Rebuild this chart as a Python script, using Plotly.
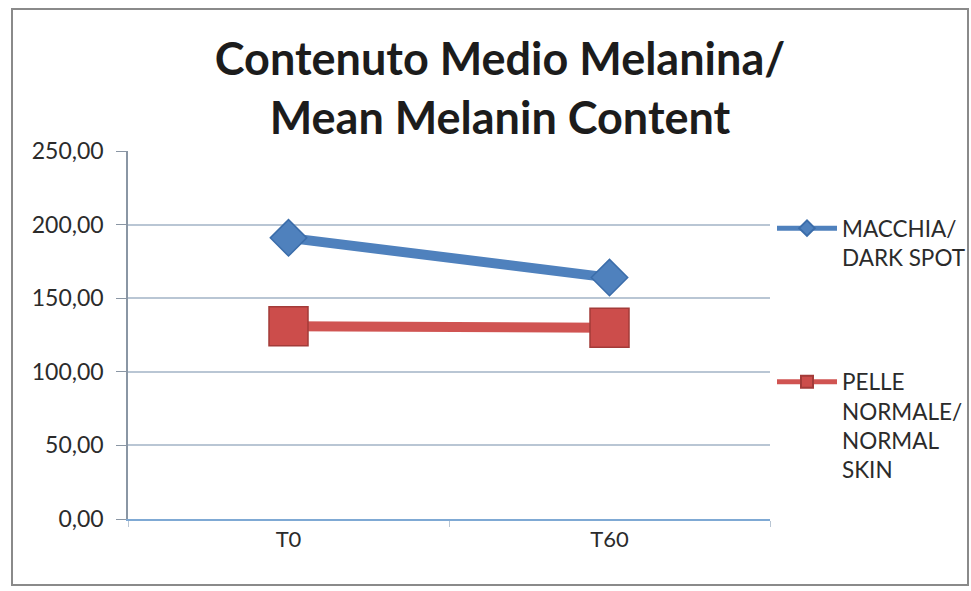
import plotly.graph_objects as go

# Mean melanin content at baseline and after 60 days
timepoints = ["T0", "T60"]
dark_spot = [191, 164]
normal_skin = [131, 130]
y_ticks = [0, 50, 100, 150, 200, 250]

W, H = 971, 591
L, R, T, B = 128, 201, 151, 72
PW, PH = W - L - R, H - T - B

def px_x(p):
    return (p - L) / PW

def px_y(p):
    return (H - B - p) / PH

font_family = "Lato, 'Open Sans', sans-serif"

fig = go.Figure()
fig.add_trace(go.Scatter(
    x=timepoints, y=dark_spot, name="MACCHIA/<br>DARK SPOT",
    mode="lines+markers", legendgroup="a",
    line=dict(color="#4F81BD", width=10),
    marker=dict(symbol="diamond", size=28, color="#4F81BD",
                line=dict(color="#3B6DAA", width=1.5)),
))
fig.add_trace(go.Scatter(
    x=timepoints, y=normal_skin, name="PELLE<br>NORMALE/<br>NORMAL<br>SKIN",
    mode="lines+markers", legendgroup="b",
    line=dict(color="#D05452", width=10),
    marker=dict(symbol="square", size=39, color="#CC4D4B",
                line=dict(color="#A33B39", width=1.5)),
))

# outer chart frame
fig.add_shape(type="rect", xref="paper", yref="paper",
              x0=px_x(12), x1=px_x(968), y0=px_y(585), y1=px_y(9),
              line=dict(color="#8a8a8a", width=2), layer="below")

fig.update_layout(
    width=W, height=H,
    margin=dict(l=L, r=R, t=T, b=B, autoexpand=False),
    paper_bgcolor="white", plot_bgcolor="white",
    separators=",.",
    font=dict(family=font_family, color="#2b2b2b", size=22),
    title=dict(text="<b>Contenuto Medio Melanina/<br>Mean Melanin Content</b>",
               x=500 / W, xanchor="center", y=1 - 75 / H, yanchor="middle",
               font=dict(family=font_family, size=45, color="#1c1c1c")),
    showlegend=True,
    legend=dict(xref="container", yref="container",
                x=772 / W, xanchor="left", y=1 - 207 / H, yanchor="top",
                tracegroupgap=92, valign="top", itemsizing="constant",
                itemwidth=60,
                font=dict(size=22.5, color="#2b2b2b"), bgcolor="rgba(0,0,0,0)"),
    xaxis=dict(type="category", range=[-0.5, 1.5], showgrid=False,
               showline=True, linecolor="#7fa9d4", linewidth=2,
               ticks="outside", tickson="boundaries", ticklen=6,
               tickcolor="#b9c6d4",
               tickfont=dict(size=22, color="#2b2b2b")),
    yaxis=dict(range=[0, 250], tickvals=y_ticks, tickformat=".2f",
               showgrid=True, gridcolor="#b9c6d4", gridwidth=1.5,
               showline=True, linecolor="#8a96a4", linewidth=1.5,
               ticks="outside", ticklen=10, tickcolor="#8a96a4",
               ticklabelstandoff=8,
               zeroline=False, tickfont=dict(size=23, color="#2b2b2b")),
)

fig.write_html("out.html")
